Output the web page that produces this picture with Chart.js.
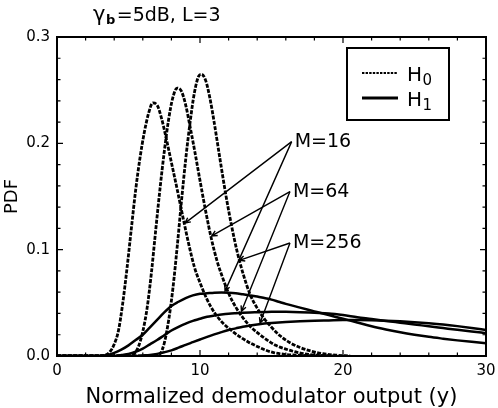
<!DOCTYPE html>
<html>
<head>
<meta charset="utf-8">
<script src="https://cdn.jsdelivr.net/npm/chart.js@4.4.1/dist/chart.umd.min.js"></script>
<style>
  html, body { margin: 0; padding: 0; background: #fff; }
</style>
</head>
<body>
<canvas id="chart" width="498" height="408"></canvas>
<script>
// H0 (dashed) curves
const h0M16X = [0, 3.0, 3.4, 3.7, 4.0, 4.3, 4.6, 4.9, 5.2, 5.5, 5.8, 6.1, 6.4, 6.7, 7.0, 7.3, 7.6, 8.0, 8.4, 8.8, 9.2, 9.6, 10.0, 10.5, 11.0, 11.6, 12.2, 12.8, 13.4, 14.0, 14.6, 15.2, 16.0, 17.0, 18.0, 19.0];
const h0M16Y = [0, 0, 0.001, 0.004, 0.011, 0.024, 0.050, 0.083, 0.120, 0.156, 0.186, 0.210, 0.228, 0.238, 0.236, 0.224, 0.207, 0.182, 0.157, 0.131, 0.106, 0.084, 0.069, 0.053, 0.041, 0.031, 0.024, 0.018, 0.013, 0.009, 0.0055, 0.003, 0.0015, 0.0006, 0.0002, 0];

const h0M64X = [0, 5.0, 5.4, 5.7, 6.0, 6.3, 6.6, 6.9, 7.2, 7.5, 7.8, 8.1, 8.4, 8.7, 9.0, 9.3, 9.6, 10.0, 10.4, 10.8, 11.2, 11.6, 12.0, 12.5, 13.0, 13.5, 14.1, 14.7, 15.3, 16.0, 16.8, 17.6, 18.5, 19.5];
const h0M64Y = [0, 0, 0.002, 0.009, 0.023, 0.045, 0.078, 0.118, 0.157, 0.192, 0.222, 0.243, 0.252, 0.249, 0.236, 0.216, 0.195, 0.165, 0.136, 0.110, 0.089, 0.073, 0.059, 0.046, 0.036, 0.028, 0.021, 0.015, 0.010, 0.0065, 0.0035, 0.0015, 0.0005, 0];

const h0M256X = [0, 6.8, 7.2, 7.5, 7.8, 8.1, 8.4, 8.7, 9.0, 9.3, 9.6, 9.9, 10.1, 10.4, 10.7, 11.0, 11.4, 11.8, 12.2, 12.6, 13.0, 13.5, 14.0, 14.5, 15.0, 15.6, 16.3, 17.0, 17.8, 18.6, 19.5, 20.5];
const h0M256Y = [0, 0, 0.002, 0.012, 0.033, 0.063, 0.102, 0.145, 0.185, 0.219, 0.247, 0.263, 0.265, 0.259, 0.242, 0.219, 0.185, 0.152, 0.123, 0.098, 0.078, 0.058, 0.045, 0.035, 0.027, 0.019, 0.0125, 0.008, 0.0045, 0.0022, 0.0008, 0];

// H1 (solid) curves
const h1M16X = [0, 3.0, 3.5, 4.0, 4.5, 5.0, 5.5, 6.0, 6.5, 7.0, 7.5, 8.0, 8.5, 9.0, 9.5, 10.0, 10.5, 11.0, 11.5, 12.0, 12.5, 13.0, 13.5, 14.0, 14.5, 15.0, 15.5, 16.0, 17.0, 18.0, 19.0, 20.0, 21.0, 22.0, 23.0, 24.0, 25.0, 26.0, 27.0, 28.0, 29.0, 30.0];
const h1M16Y = [0, 0, 0.001, 0.003, 0.006, 0.010, 0.015, 0.020, 0.027, 0.034, 0.041, 0.047, 0.051, 0.0545, 0.057, 0.0585, 0.059, 0.0595, 0.0597, 0.0595, 0.059, 0.058, 0.057, 0.056, 0.0545, 0.053, 0.051, 0.049, 0.0455, 0.042, 0.0385, 0.035, 0.0315, 0.028, 0.025, 0.0223, 0.0200, 0.0180, 0.0163, 0.0147, 0.0133, 0.012];

const h1M64X = [0, 4.0, 4.5, 5.0, 5.5, 6.0, 6.5, 7.0, 7.5, 8.0, 8.5, 9.0, 9.5, 10.0, 10.5, 11.0, 11.5, 12.0, 12.5, 13.0, 13.5, 14.0, 14.5, 15.0, 15.5, 16.0, 17.0, 18.0, 19.0, 20.0, 21.0, 22.0, 23.0, 24.0, 25.0, 26.0, 27.0, 28.0, 29.0, 30.0];
const h1M64Y = [0, 0, 0.001, 0.002, 0.004, 0.007, 0.011, 0.015, 0.0195, 0.024, 0.0275, 0.0305, 0.033, 0.035, 0.037, 0.038, 0.039, 0.0398, 0.0403, 0.0407, 0.041, 0.0412, 0.0414, 0.0416, 0.0417, 0.0416, 0.0412, 0.0406, 0.040, 0.0385, 0.0365, 0.0348, 0.0330, 0.0313, 0.0296, 0.0280, 0.0263, 0.0246, 0.0230, 0.0215];

const h1M256X = [0, 5.5, 6.0, 6.5, 7.0, 7.5, 8.0, 8.5, 9.0, 9.5, 10.0, 10.5, 11.0, 11.5, 12.0, 12.5, 13.0, 13.5, 14.0, 14.5, 15.0, 15.5, 16.0, 17.0, 18.0, 19.0, 20.0, 21.0, 22.0, 23.0, 24.0, 25.0, 26.0, 27.0, 28.0, 29.0, 30.0];
const h1M256Y = [0, 0, 0.0005, 0.001, 0.002, 0.0035, 0.0053, 0.0078, 0.0105, 0.013, 0.0155, 0.018, 0.0203, 0.0225, 0.0245, 0.026, 0.0275, 0.0287, 0.0297, 0.0305, 0.0311, 0.0316, 0.032, 0.0327, 0.0332, 0.0335, 0.0338, 0.0338, 0.0336, 0.0332, 0.0326, 0.0318, 0.0308, 0.0296, 0.0281, 0.0264, 0.0245];

// axis ticks
const xTicks = [0, 10, 20, 30];
const yTicks = [0, 0.1, 0.2, 0.3];
const xMinorStep = 2;
const yMinorStep = 0.02;

// "M=.." call-outs: where the text sits and where its two arrows point (data units)
const labelText = ["M=16", "M=64", "M=256"];
const labelX = [16.41, 16.29, 16.29];
const labelY = [0.2016, 0.1546, 0.1063];
const arrowToX = [[8.95, 11.75], [10.82, 12.9], [12.75, 14.2]];
const arrowToY = [[0.125, 0.061], [0.113, 0.042], [0.090, 0.031]];

const FONT = "'DejaVu Sans', sans-serif";
Chart.defaults.font.family = FONT;
Chart.defaults.color = '#000';

function pts(xs, ys) {
  return xs.map((x, i) => ({ x, y: ys[i] }));
}

const dashed = { borderColor: '#000', borderWidth: 2.8, borderDash: [4, 1.4] };
const solid = { borderColor: '#000', borderWidth: 2.5 };

const datasets = [
  { label: 'H0 M=16', data: pts(h0M16X, h0M16Y), ...dashed },
  { label: 'H0 M=64', data: pts(h0M64X, h0M64Y), ...dashed },
  { label: 'H0 M=256', data: pts(h0M256X, h0M256Y), ...dashed },
  { label: 'H1 M=16', data: pts(h1M16X, h1M16Y), ...solid },
  { label: 'H1 M=64', data: pts(h1M64X, h1M64Y), ...solid },
  { label: 'H1 M=256', data: pts(h1M256X, h1M256Y), ...solid },
];

const frameTicks = {
  id: 'frameTicks',
  afterDatasetsDraw(chart) {
    const { ctx, chartArea: a, scales: { x, y } } = chart;
    ctx.save();
    ctx.strokeStyle = '#000';
    ctx.lineWidth = 1.2;
    ctx.beginPath();
    for (let v = x.min; v <= x.max + 1e-9; v += xMinorStep) {
      const px = x.getPixelForValue(v);
      const len = xTicks.includes(Math.round(v)) ? 6 : 3.5;
      ctx.moveTo(px, a.bottom); ctx.lineTo(px, a.bottom - len);
      ctx.moveTo(px, a.top); ctx.lineTo(px, a.top + len);
    }
    for (let v = y.min; v <= y.max + 1e-9; v += yMinorStep) {
      const py = y.getPixelForValue(v);
      const major = yTicks.some(t => Math.abs(t - v) < 1e-6);
      const len = major ? 6 : 3.5;
      ctx.moveTo(a.left, py); ctx.lineTo(a.left + len, py);
      ctx.moveTo(a.right, py); ctx.lineTo(a.right - len, py);
    }
    ctx.stroke();
    ctx.lineWidth = 2;
    ctx.strokeRect(a.left, a.top, a.right - a.left, a.bottom - a.top);
    ctx.restore();
  }
};

const callouts = {
  id: 'callouts',
  afterDatasetsDraw(chart) {
    const { ctx, scales: { x, y } } = chart;
    ctx.save();
    ctx.strokeStyle = '#000';
    ctx.fillStyle = '#000';
    ctx.lineWidth = 1.4;
    labelText.forEach((txt, i) => {
      const ax = x.getPixelForValue(labelX[i]);
      const ay = y.getPixelForValue(labelY[i]);
      arrowToX[i].forEach((tv, j) => {
        const tx = x.getPixelForValue(tv);
        const ty = y.getPixelForValue(arrowToY[i][j]);
        const ang = Math.atan2(ty - ay, tx - ax);
        ctx.beginPath();
        ctx.moveTo(ax, ay);
        ctx.lineTo(tx, ty);
        ctx.moveTo(tx - 6 * Math.cos(ang - 0.45), ty - 6 * Math.sin(ang - 0.45));
        ctx.lineTo(tx, ty);
        ctx.lineTo(tx - 6 * Math.cos(ang + 0.45), ty - 6 * Math.sin(ang + 0.45));
        ctx.stroke();
      });
      ctx.font = '19px ' + FONT;
      ctx.textBaseline = 'middle';
      ctx.textAlign = 'left';
      ctx.fillText(txt, ax + 3, ay);
    });
    ctx.restore();
  }
};

const legendAndTitle = {
  id: 'legendAndTitle',
  afterDraw(chart) {
    const { ctx } = chart;
    ctx.save();
    ctx.fillStyle = '#000';
    ctx.strokeStyle = '#000';
    // legend box
    ctx.lineWidth = 2;
    ctx.strokeRect(347, 48, 102, 72);
    ctx.beginPath();
    ctx.lineWidth = 1.8;
    ctx.setLineDash([2.4, 1.2]);
    ctx.moveTo(362, 73); ctx.lineTo(398, 73);
    ctx.stroke();
    ctx.beginPath();
    ctx.setLineDash([]);
    ctx.lineWidth = 2.8;
    ctx.moveTo(362, 98); ctx.lineTo(398, 98);
    ctx.stroke();
    ctx.textBaseline = 'alphabetic';
    ctx.textAlign = 'left';
    [['H', '0', 81], ['H', '1', 106]].forEach(([m, s, base]) => {
      ctx.font = '20px ' + FONT;
      ctx.fillText(m, 407, base);
      const w = ctx.measureText(m).width;
      ctx.font = '15px ' + FONT;
      ctx.fillText(s, 407 + w + 0.5, base + 4);
    });
    // title
    let tx = 93;
    ctx.font = '21px ' + FONT;
    ctx.fillText('γ', tx, 21);
    tx += ctx.measureText('γ').width + 0.5;
    ctx.font = 'bold 13px ' + FONT;
    ctx.fillText('b', tx, 24);
    tx += ctx.measureText('b').width + 1.5;
    ctx.font = '19px ' + FONT;
    ctx.fillText('=5dB, L=3', tx, 21);
    ctx.restore();
  }
};

new Chart(document.getElementById('chart'), {
  type: 'line',
  data: { datasets },
  options: {
    responsive: false,
    animation: false,
    devicePixelRatio: 1,
    layout: { padding: { top: 37, right: 12, left: 0, bottom: 0 } },
    elements: {
      point: { radius: 0 },
      line: { cubicInterpolationMode: 'monotone', fill: false },
    },
    plugins: { legend: { display: false }, tooltip: { enabled: false } },
    scales: {
      x: {
        type: 'linear', min: 0, max: 30,
        grid: { display: false, drawTicks: false },
        border: { display: false },
        afterBuildTicks: (s) => { s.ticks = xTicks.map((v) => ({ value: v })); },
        afterFit: (s) => { s.height = 52; s.paddingLeft = 0; s.paddingRight = 0; },
        ticks: { color: '#000', font: { size: 15 }, padding: 6, maxRotation: 0, autoSkip: false, callback: (v) => String(v) },
        title: { display: true, text: 'Normalized demodulator output (y)', color: '#000', font: { size: 21, lineHeight: 1 }, padding: { top: 0, bottom: 0 } },
      },
      y: {
        type: 'linear', min: 0, max: 0.3,
        grid: { display: false, drawTicks: false },
        border: { display: false },
        afterBuildTicks: (s) => { s.ticks = yTicks.map((v) => ({ value: v })); },
        afterFit: (s) => { s.width = 57; s.paddingTop = 0; s.paddingBottom = 0; },
        ticks: { color: '#000', font: { size: 15 }, padding: 7, autoSkip: false, callback: (v) => v.toFixed(1) },
        title: { display: true, text: 'PDF', color: '#000', font: { size: 18, lineHeight: 1 }, padding: { top: 3, bottom: 0 } },
      },
    },
  },
  plugins: [frameTicks, callouts, legendAndTitle],
});
</script>
</body>
</html>
